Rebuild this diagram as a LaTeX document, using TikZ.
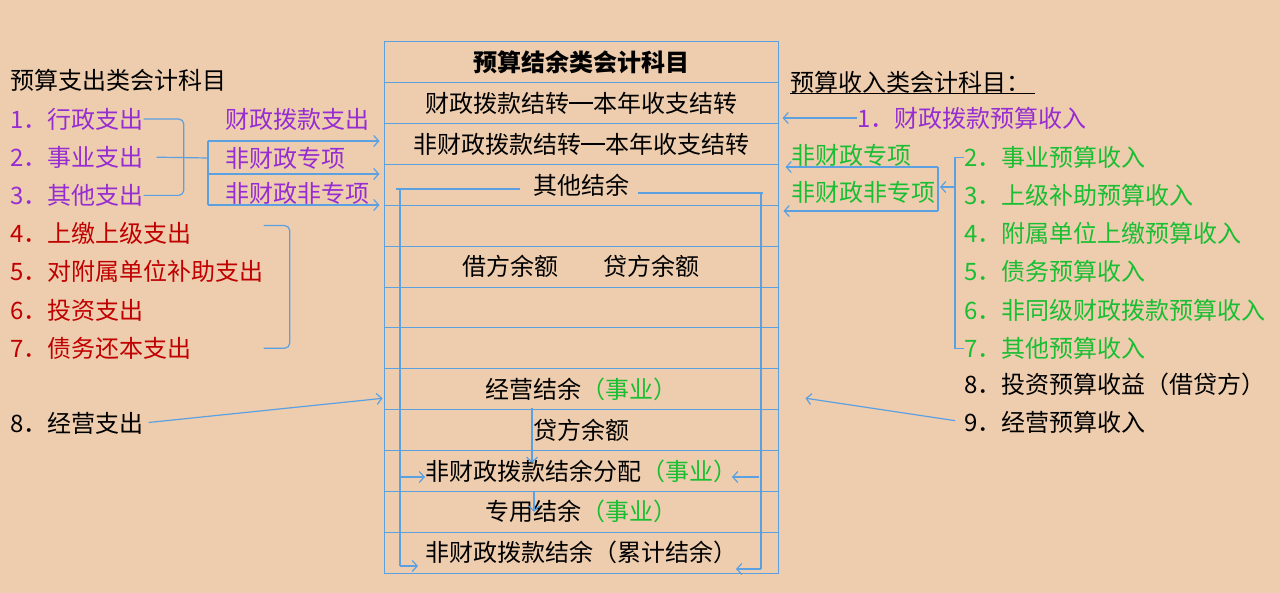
\documentclass[tikz,border=0pt]{standalone}
\usepackage{fontspec}
\setmainfont{Noto Sans CJK SC}
\usetikzlibrary{arrows.meta}

\definecolor{bg}{RGB}{238,205,174}
\definecolor{bblue}{RGB}{91,160,225}
\definecolor{kpurple}{RGB}{150,45,210}
\definecolor{kred}{RGB}{192,0,0}
\definecolor{kgreen}{RGB}{25,190,50}

\newcommand{\emline}{\rule[0.36em]{1em}{0.06em}}

\begin{document}
\begin{tikzpicture}[x=1pt, y=-1pt,
    txt/.style = {font=\fontsize{24}{28}\selectfont, inner sep=0pt, anchor=west},
    rowbox/.style = {draw=bblue, line width=1pt, minimum width=394pt, minimum height=40.85pt, inner sep=0pt, font=\fontsize{24}{28}\selectfont},
    bline/.style = {draw=bblue, line width=1.2pt},
    barrow/.style = {bline, -{Straight Barb[length=5pt, width=11pt]}}]

    \fill[bg] (0,0) rectangle (1280,593);

    \def \midx {581}
    \def \rowh {40.85}

    % table of balance accounts
    \foreach \i/\txt in {1/{\bfseries 预算结余类会计科目}, 2/{财政拨款结转\emline 本年收支结转}, 3/{非财政拨款结转\emline 本年收支结转}, 4/{其他结余}, 5/{}, 6/{借方余额\hspace{45pt}贷方余额}, 7/{}, 8/{}, 9/{经营结余\textcolor{kgreen}{（事业）}}, 10/{贷方余额}, 11/{非财政拨款结余分配\textcolor{kgreen}{（事业）}}, 12/{专用结余\textcolor{kgreen}{（事业）}}, 13/{非财政拨款结余（累计结余）}}
        \node[rowbox] (r\i) at (\midx, {42 + \rowh*\i - \rowh/2}) {\txt};

    % inner frame
    \coordinate (ktl) at (396,189);
    \coordinate (ktr) at (763,193);
    \coordinate (kbl) at (400,566);
    \coordinate (kbr) at (761,569);
    \draw[bline] (ktl) -- (520,189);
    \draw[bline] (638,193) -- (ktr);
    \draw[bline] (400,189) -- (kbl);
    \draw[bline] (761,193) -- (kbr);
    \draw[barrow] (kbl) -- ++(18,0);
    \draw[barrow] (kbr) -- ++(-25,0);
    \draw[barrow] (400,477) -- ++(25,0);
    \draw[barrow] (759,477) -- ++(-27,0);
    \draw[barrow] ([xshift=-49pt,yshift=2pt]r9.south) -- ([xshift=-49pt,yshift=8pt]r11.center);
    \draw[barrow] ([xshift=-47pt]r11.south) -- ([xshift=-47pt]r12.center);

    % expenditure side
    \node[txt] (lhead) at (10,80) {预算支出类会计科目};
    \foreach \i/\col/\txt in {1/kpurple/行政支出, 2/kpurple/事业支出, 3/kpurple/其他支出, 4/kred/上缴上级支出, 5/kred/对附属单位补助支出, 6/kred/投资支出, 7/kred/债务还本支出}
        \node[txt, text=\col] (l\i) at (10, {119 + 38.2*(\i-1)}) {\i．\txt};
    \node[txt] (l8) at (10,423) {8．经营支出};

    \node[txt, text=kpurple] (p1) at (225,119) {财政拨款支出};
    \node[txt, text=kpurple] (p2) at (225,158) {非财政专项};
    \node[txt, text=kpurple] (p3) at (225,193) {非财政非专项};

    \draw[bline, rounded corners=5pt] (l1.east) -- ++(40,0) |- (l3.east);
    \draw[bline] ([xshift=13pt]l2.east) -- (208,158);
    \coordinate (s1) at (208,141);
    \coordinate (s2) at (208,174);
    \coordinate (s3) at (208,205);
    \draw[bline] (s1) -- (s3);
    \foreach \s in {s1,s2,s3}
        \draw[barrow, shorten >=4pt] (\s) -- (\s -| r1.west);
    \draw[bline, rounded corners=5pt] ([yshift=8pt]l4.east -| l5.east) -- ++(26,0) |- (l7.east -| l5.east);
    \draw[barrow, shorten <=5pt, shorten >=1pt] (l8.east) -- ([yshift=-9pt]r9.west);

    % revenue side
    \node[txt] (rhead) at (790,82) {预算收入类会计科目：};
    \draw[line width=1pt] ([yshift=-2pt]rhead.base west) -- ++(245,0);
    \node[txt, text=kpurple] (rr1) at (857,118) {1．财政拨款预算收入};
    \node[txt, text=kgreen] (g1) at (791,155) {非财政专项};
    \node[txt, text=kgreen] (g2) at (791,192) {非财政非专项};
    \foreach \i/\txt in {2/事业预算收入, 3/上级补助预算收入, 4/附属单位上缴预算收入, 5/债务预算收入, 6/非同级财政拨款预算收入, 7/其他预算收入}
        \node[txt, text=kgreen] (rr\i) at (964, {119 + 38.2*(\i-1)}) {\i．\txt};
    \node[txt] (rr8) at (964,384) {8．投资预算收益（借贷方）};
    \node[txt] (rr9) at (964,422) {9．经营预算收入};

    \draw[barrow, shorten >=4pt] (rr1.west) -- (rr1.west -| r2.east);
    \coordinate (q1) at (938,167);
    \coordinate (q2) at (938,211);
    \coordinate (q3) at (955,187);
    \draw[bline] (q1) -- (q2);
    \draw[barrow, shorten >=7pt] (q1) -- (q1 -| r1.east);
    \draw[barrow, shorten >=5pt] (q2) -- (q2 -| r1.east);
    \draw[bline] (rr2.west) -- ++(-9,0) |- (rr7.west);
    \draw[barrow, shorten >=2pt] (q3) -- (q3 -| q1);
    \draw[barrow, shorten <=9pt] (rr9.west) -- ([xshift=27pt,yshift=-9pt]r9.east);
\end{tikzpicture}
\end{document}
